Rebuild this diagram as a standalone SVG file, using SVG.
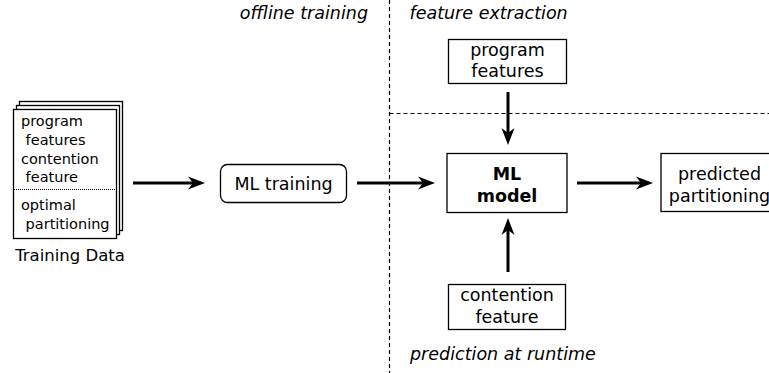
<svg xmlns="http://www.w3.org/2000/svg" width="769" height="373" viewBox="0 0 769 373">
<style>
text { font-family: "DejaVu Sans", sans-serif; fill: #000; }
.t { font-size: 17.5px; text-anchor: middle; }
.it { font-size: 17.5px; font-style: italic; }
.small { font-size: 14.5px; }
.box { fill: #fff; stroke: #000; stroke-width: 1.3; }
.arr { stroke: #000; stroke-width: 3; fill: none; marker-end: url(#ah); }
.dash { stroke: #000; stroke-width: 1.2; stroke-dasharray: 4 3; fill: none; }
</style>
<defs>
<marker id="ah" markerUnits="userSpaceOnUse" viewBox="-6 -8 20 16" markerWidth="20" markerHeight="16" refX="0" refY="0" orient="auto">
<path d="M12,0 L-5,-6.5 L0,0 L-5,6.5 Z" fill="#000"/>
</marker>
</defs>
<rect width="769" height="373" fill="#fff"/>

<g id="regions">
<path class="dash" d="M389.5,0 V373"/>
<path class="dash" d="M389.5,113.5 H769"/>
<text class="it" x="368" y="19" text-anchor="end">offline training</text>
<text class="it" x="409.5" y="19">feature extraction</text>
<text class="it" x="410" y="359.5">prediction at runtime</text>
</g>

<g id="training-data">
<rect class="box" x="19.5" y="101.5" width="103" height="129"/>
<rect class="box" x="16.5" y="105.5" width="103" height="129"/>
<rect class="box" x="13.5" y="109.5" width="103" height="129"/>
<path d="M14,189.5 H116" stroke="#000" stroke-width="1" stroke-dasharray="1 1"/>
<text class="small" x="21" y="126" xml:space="preserve">program</text>
<text class="small" x="21" y="144.5" xml:space="preserve"> features</text>
<text class="small" x="21" y="163.5" xml:space="preserve">contention</text>
<text class="small" x="21" y="182" xml:space="preserve"> feature</text>
<text class="small" x="21" y="209.5" xml:space="preserve">optimal</text>
<text class="small" x="21" y="228.5" xml:space="preserve"> partitioning</text>
<text x="70" y="261" font-size="16.5" text-anchor="middle">Training Data</text>
</g>

<g id="ml-training">
<rect class="box" x="220.5" y="164.5" width="126" height="38" rx="7"/>
<text class="t" x="283.5" y="189.5">ML training</text>
</g>

<g id="program-features">
<rect class="box" x="448.5" y="39.5" width="118" height="44"/>
<text class="t" x="507.5" y="55.5">program</text>
<text class="t" x="507.5" y="77">features</text>
</g>

<g id="ml-model">
<rect class="box" x="447" y="153.5" width="120" height="59"/>
<text class="t" x="507" y="180" font-weight="bold">ML</text>
<text class="t" x="507" y="201.5" font-weight="bold">model</text>
</g>

<g id="contention-feature">
<rect class="box" x="448.5" y="284.5" width="117" height="45"/>
<text class="t" x="507" y="301">contention</text>
<text class="t" x="507" y="323">feature</text>
</g>

<g id="predicted-partitioning">
<rect class="box" x="661" y="153.5" width="118" height="58"/>
<text class="t" x="719.5" y="180">predicted</text>
<text class="t" x="719.5" y="201.5">partitioning</text>
</g>

<g id="connectors">
<path class="arr" d="M133,183 H193"/>
<path class="arr" d="M357,183 H423"/>
<path class="arr" d="M577,183 H641"/>
<path class="arr" d="M508,92 V133"/>
<path class="arr" d="M508,272 V230"/>
</g>
</svg>
